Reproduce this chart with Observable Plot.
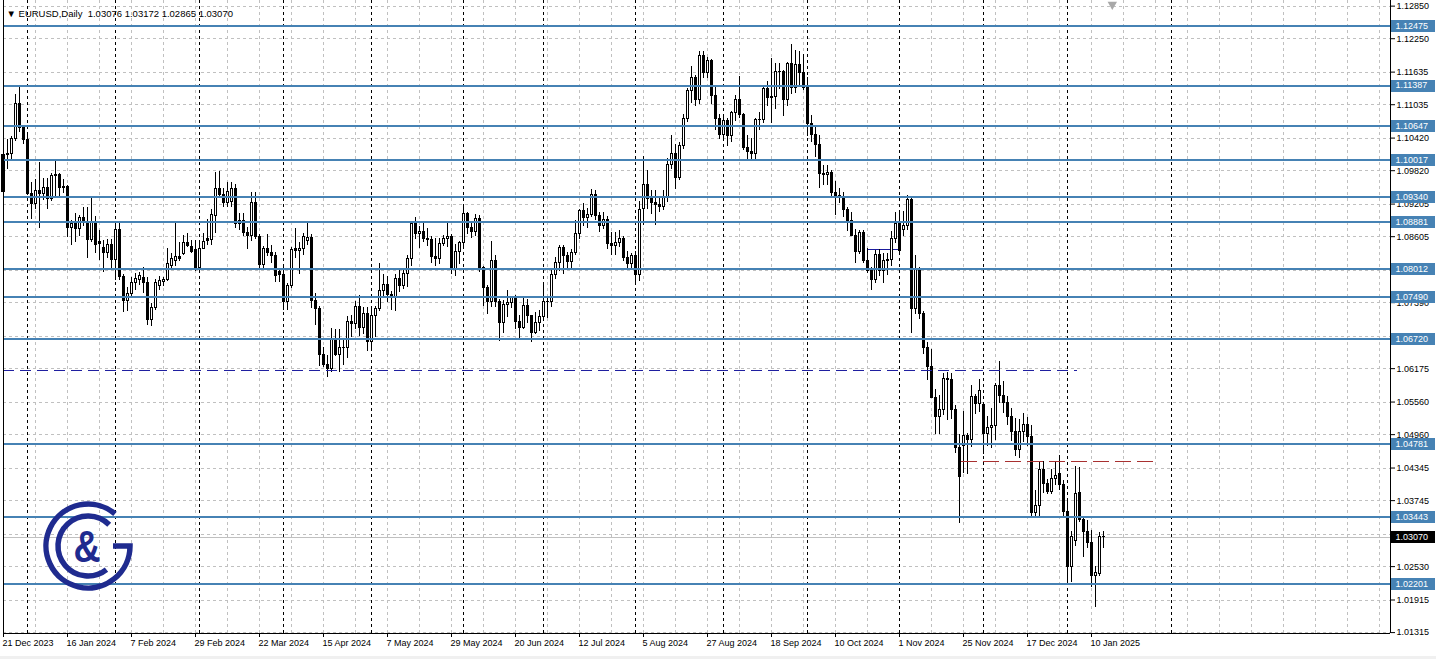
<!DOCTYPE html>
<html><head><meta charset="utf-8">
<script src="https://cdn.jsdelivr.net/npm/d3@7"></script>
<script src="https://cdn.jsdelivr.net/npm/@observablehq/plot@0.6"></script>
<style>
html,body{margin:0;padding:0;background:#f0f0f0;}
#chart svg{display:block;background:#fff;}
</style></head><body><div id="chart"></div>
<script>
// ---- Data: EURUSD daily bars, index 0 = 21 Dec 2023 ----
const opens = [
1.0942,1.1010,1.1012,1.1041,1.1104,1.1061,1.1039,1.0940,1.0920,1.0945,
1.0940,1.0950,1.0930,1.0972,1.0974,1.0951,1.0952,1.0877,1.0884,1.0875,
1.0895,1.0886,1.0855,1.0886,1.0850,1.0840,1.0830,1.0845,1.0818,1.0872,
1.0787,1.0742,1.0755,1.0776,1.0781,1.0785,1.0776,1.0708,1.0730,1.0770,
1.0777,1.0780,1.0806,1.0815,1.0824,1.0828,1.0848,1.0841,1.0836,1.0803,
1.0838,1.0856,1.0855,1.0898,1.0948,1.0938,1.0922,1.0925,1.0949,1.0884,
1.0890,1.0867,1.0862,1.0922,1.0860,1.0808,1.0838,1.0831,1.0825,1.0795,
1.0790,1.0741,1.0770,1.0838,1.0835,1.0837,1.0853,1.0858,1.0742,1.0727,
1.0642,1.0624,1.0617,1.0672,1.0643,1.0656,1.0655,1.0703,1.0699,1.0731,
1.0693,1.0719,1.0666,1.0714,1.0727,1.0761,1.0771,1.0753,1.0749,1.0783,
1.0770,1.0791,1.0819,1.0883,1.0866,1.0870,1.0857,1.0855,1.0823,1.0819,
1.0847,1.0856,1.0859,1.0800,1.0832,1.0848,1.0902,1.0876,1.0870,1.0893,
1.0802,1.0766,1.0741,1.0816,1.0740,1.0701,1.0735,1.0739,1.0749,1.0703,
1.0692,1.0733,1.0715,1.0683,1.0701,1.0713,1.0740,1.0741,1.0790,1.0812,
1.0839,1.0825,1.0813,1.0830,1.0866,1.0907,1.0895,1.0901,1.0938,1.0899,
1.0881,1.0891,1.0847,1.0843,1.0849,1.0856,1.0822,1.0810,1.0825,1.0790,
1.0912,1.0955,1.0930,1.0922,1.0919,1.0916,1.0932,1.0993,1.1012,1.0969,
1.1027,1.1077,1.1129,1.1152,1.1113,1.1193,1.1161,1.1184,1.1120,1.1077,
1.1047,1.1074,1.1045,1.1088,1.1112,1.1084,1.1024,1.1017,1.1012,1.1075,
1.1076,1.1132,1.1116,1.1118,1.1163,1.1164,1.1112,1.1179,1.1134,1.1177,
1.1162,1.1135,1.1068,1.1047,1.1030,1.0975,1.0974,1.0977,1.0941,1.0936,
1.0934,1.0910,1.0890,1.0862,1.0832,1.0867,1.0816,1.0798,1.0781,1.0826,
1.0797,1.0815,1.0817,1.0856,1.0884,1.0873,1.0880,1.0928,1.0728,1.0801,
1.0718,1.0656,1.0621,1.0564,1.0529,1.0541,1.0599,1.0596,1.0542,1.0472,
1.0475,1.0494,1.0487,1.0565,1.0553,1.0550,1.0497,1.0508,1.0512,1.0585,
1.0568,1.0554,1.0528,1.0500,1.0468,1.0501,1.0513,1.0491,1.0352,1.0364,
1.0430,1.0405,1.0390,1.0415,1.0424,1.0403,1.0354,1.0253,1.0301,1.0388,
1.0338,1.0316,1.0297,1.0235,1.0240,1.03076];
const highs = [
1.1012,1.1040,1.1045,1.1123,1.1139,1.1065,1.1046,1.0960,1.0965,1.0998,
1.0968,1.0968,1.0976,1.0999,1.0976,1.0966,1.0954,1.0890,1.0903,1.0900,
1.0915,1.0914,1.0932,1.0898,1.0872,1.0853,1.0855,1.0855,1.0889,1.0885,
1.0790,1.0767,1.0785,1.0792,1.0794,1.0804,1.0785,1.0737,1.0782,1.0788,
1.0786,1.0839,1.0830,1.0885,1.0850,1.0862,1.0866,1.0853,1.0854,1.0854,
1.0866,1.0892,1.0910,1.0979,1.0981,1.0950,1.0960,1.0960,1.0956,1.0904,
1.0903,1.0878,1.0942,1.0942,1.0864,1.0843,1.0865,1.0845,1.0831,1.0800,
1.0803,1.0775,1.0840,1.0876,1.0850,1.0867,1.0885,1.0865,1.0755,1.0732,
1.0656,1.0642,1.0691,1.0690,1.0690,1.0671,1.0714,1.0715,1.0742,1.0752,
1.0730,1.0730,1.0726,1.0732,1.0812,1.0790,1.0787,1.0760,1.0790,1.0799,
1.0801,1.0825,1.0887,1.0895,1.0880,1.0885,1.0875,1.0860,1.0858,1.0858,
1.0862,1.0888,1.0865,1.0846,1.0852,1.0916,1.0905,1.0885,1.0902,1.0899,
1.0805,1.0770,1.0852,1.0825,1.0745,1.0743,1.0761,1.0751,1.0752,1.0716,
1.0748,1.0745,1.0716,1.0720,1.0724,1.0776,1.0750,1.0800,1.0822,1.0845,
1.0845,1.0832,1.0837,1.0890,1.0910,1.0922,1.0912,1.0948,1.0945,1.0905,
1.0905,1.0898,1.0868,1.0869,1.0872,1.0860,1.0833,1.0830,1.0834,1.0926,
1.1008,1.0982,1.0945,1.0945,1.0933,1.0945,1.1004,1.1047,1.1030,1.1033,
1.1085,1.1133,1.1174,1.1158,1.1201,1.1202,1.1190,1.1187,1.1139,1.1086,
1.1080,1.1078,1.1091,1.1120,1.1155,1.1088,1.1047,1.1041,1.1078,1.1090,
1.1138,1.1147,1.1189,1.1180,1.1179,1.1167,1.1182,1.1214,1.1203,1.1202,
1.1196,1.1153,1.1083,1.1061,1.1047,1.0992,1.0992,1.0983,1.0963,1.0950,
1.0941,1.0914,1.0905,1.0874,1.0871,1.0871,1.0838,1.0804,1.0835,1.0836,
1.0830,1.0830,1.0870,1.0905,1.0905,1.0906,1.0937,1.0930,1.0826,1.0803,
1.0722,1.0666,1.0653,1.0580,1.0568,1.0608,1.0610,1.0609,1.0549,1.0497,
1.0539,1.0499,1.0587,1.0570,1.0597,1.0555,1.0530,1.0544,1.0590,1.0630,
1.0594,1.0566,1.0545,1.0525,1.0523,1.0535,1.0527,1.0512,1.0393,1.0444,
1.0446,1.0413,1.0431,1.0445,1.0458,1.0412,1.0375,1.0317,1.0437,1.0436,
1.0346,1.0338,1.0320,1.0253,1.0316,1.03172];
const lows = [
1.0935,1.0985,1.1002,1.1036,1.1052,1.1030,1.0937,1.0892,1.0910,1.0876,
1.0928,1.0911,1.0925,1.0933,1.0930,1.0940,1.0859,1.0844,1.0849,1.0860,
1.0880,1.0821,1.0850,1.0830,1.0817,1.0795,1.0820,1.0800,1.0780,1.0780,
1.0721,1.0723,1.0750,1.0762,1.0770,1.0756,1.0697,1.0695,1.0725,1.0762,
1.0768,1.0778,1.0800,1.0805,1.0815,1.0825,1.0840,1.0830,1.0796,1.0795,
1.0836,1.0845,1.0845,1.0866,1.0935,1.0915,1.0915,1.0915,1.0876,1.0872,
1.0860,1.0837,1.0851,1.0856,1.0802,1.0800,1.0824,1.0812,1.0776,1.0776,
1.0724,1.0725,1.0765,1.0820,1.0791,1.0825,1.0845,1.0729,1.0697,1.0622,
1.0619,1.0601,1.0610,1.0640,1.0610,1.0624,1.0637,1.0675,1.0690,1.0677,
1.0680,1.0650,1.0650,1.0675,1.0722,1.0750,1.0740,1.0724,1.0723,1.0758,
1.0763,1.0767,1.0806,1.0855,1.0838,1.0850,1.0842,1.0811,1.0805,1.0810,
1.0842,1.0841,1.0790,1.0788,1.0810,1.0840,1.0864,1.0858,1.0860,1.0795,
1.0732,1.0718,1.0730,1.0730,1.0667,1.0683,1.0712,1.0728,1.0690,1.0671,
1.0690,1.0700,1.0666,1.0681,1.0686,1.0709,1.0710,1.0730,1.0782,1.0797,
1.0791,1.0800,1.0800,1.0826,1.0855,1.0880,1.0876,1.0895,1.0890,1.0868,
1.0874,1.0836,1.0825,1.0826,1.0841,1.0814,1.0801,1.0800,1.0777,1.0778,
1.0881,1.0910,1.0902,1.0881,1.0905,1.0908,1.0924,1.0985,1.0947,1.0964,
1.1021,1.1070,1.1105,1.1101,1.1103,1.1152,1.1151,1.1104,1.1056,1.1040,
1.1040,1.1026,1.1033,1.1072,1.1078,1.1020,1.1002,1.1002,1.1001,1.1056,
1.1068,1.1101,1.1068,1.1094,1.1132,1.1081,1.1100,1.1122,1.1124,1.1136,
1.1129,1.1045,1.1033,1.1006,1.0950,1.0954,1.0955,1.0935,1.0899,1.0922,
1.0896,1.0870,1.0860,1.0811,1.0828,1.0811,1.0793,1.0761,1.0775,1.0787,
1.0775,1.0789,1.0805,1.0848,1.0832,1.0860,1.0871,1.0683,1.0718,1.0708,
1.0643,1.0595,1.0562,1.0497,1.0497,1.0532,1.0522,1.0524,1.0462,1.0332,
1.0425,1.0423,1.0473,1.0534,1.0536,1.0460,1.0474,1.0471,1.0485,1.0553,
1.0535,1.0512,1.0484,1.0456,1.0452,1.0481,1.0475,1.0343,1.0343,1.0343,
1.0387,1.0385,1.0385,1.0402,1.0394,1.0343,1.0222,1.0224,1.0290,1.0335,
1.0270,1.0286,1.0214,1.0177,1.0235,1.02865];
const closes = [
1.1010,1.1012,1.1041,1.1104,1.1061,1.1039,1.0940,1.0920,1.0945,1.0940,
1.0950,1.0930,1.0972,1.0974,1.0951,1.0952,1.0877,1.0884,1.0875,1.0895,
1.0886,1.0855,1.0886,1.0845,1.0847,1.0830,1.0845,1.0818,1.0872,1.0786,
1.0742,1.0755,1.0776,1.0783,1.0789,1.0776,1.0708,1.0730,1.0775,1.0778,
1.0780,1.0810,1.0820,1.0824,1.0820,1.0848,1.0843,1.0833,1.0800,1.0838,
1.0851,1.0852,1.0900,1.0948,1.0938,1.0922,1.0943,1.0949,1.0884,1.0890,
1.0867,1.0862,1.0922,1.0860,1.0808,1.0838,1.0831,1.0825,1.0789,1.0790,
1.0741,1.0770,1.0836,1.0835,1.0837,1.0860,1.0858,1.0742,1.0727,1.0642,
1.0624,1.0617,1.0672,1.0643,1.0656,1.0655,1.0703,1.0699,1.0731,1.0693,
1.0719,1.0666,1.0714,1.0727,1.0761,1.0771,1.0753,1.0749,1.0783,1.0770,
1.0791,1.0819,1.0883,1.0866,1.0870,1.0857,1.0855,1.0823,1.0819,1.0847,
1.0856,1.0859,1.0800,1.0832,1.0848,1.0902,1.0876,1.0870,1.0893,1.0802,
1.0766,1.0741,1.0816,1.0740,1.0701,1.0735,1.0739,1.0749,1.0703,1.0692,
1.0733,1.0715,1.0683,1.0701,1.0713,1.0740,1.0741,1.0790,1.0812,1.0839,
1.0825,1.0813,1.0830,1.0866,1.0907,1.0895,1.0901,1.0938,1.0899,1.0881,
1.0891,1.0847,1.0843,1.0849,1.0856,1.0822,1.0810,1.0825,1.0790,1.0909,
1.0955,1.0930,1.0922,1.0919,1.0916,1.0932,1.0993,1.1012,1.0969,1.1027,
1.1077,1.1129,1.1152,1.1113,1.1193,1.1161,1.1184,1.1120,1.1077,1.1047,
1.1074,1.1045,1.1088,1.1112,1.1084,1.1024,1.1017,1.1012,1.1075,1.1076,
1.1132,1.1116,1.1118,1.1163,1.1164,1.1112,1.1179,1.1134,1.1177,1.1162,
1.1135,1.1068,1.1047,1.1030,1.0975,1.0974,1.0977,1.0941,1.0936,1.0934,
1.0910,1.0890,1.0862,1.0832,1.0867,1.0816,1.0798,1.0781,1.0826,1.0797,
1.0815,1.0817,1.0856,1.0884,1.0834,1.0880,1.0928,1.0728,1.0801,1.0718,
1.0656,1.0621,1.0564,1.0529,1.0541,1.0599,1.0596,1.0542,1.0472,1.0418,
1.0494,1.0487,1.0565,1.0553,1.0577,1.0497,1.0508,1.0512,1.0585,1.0568,
1.0554,1.0528,1.0500,1.0468,1.0501,1.0513,1.0491,1.0352,1.0364,1.0430,
1.0405,1.0390,1.0415,1.0420,1.0403,1.0354,1.0253,1.0307,1.0386,1.0338,
1.0316,1.0296,1.0235,1.0242,1.0307,1.03070];

// time-axis labels (one every 16 bars)
const dateLabels = ["21 Dec 2023","16 Jan 2024","7 Feb 2024","29 Feb 2024","22 Mar 2024","15 Apr 2024",
  "7 May 2024","29 May 2024","20 Jun 2024","12 Jul 2024","5 Aug 2024","27 Aug 2024","18 Sep 2024",
  "10 Oct 2024","1 Nov 2024","25 Nov 2024","17 Dec 2024","10 Jan 2025"];
const labelStep = 16;
// first bar of each month (period separators)
const monthStarts = [6, 28, 49, 70, 92, 115, 135, 158, 180, 201, 224, 245, 266, 292];
// price scale grid ticks, and the tick labels that are not covered by level tags
const priceTicks = [1.12850,1.12250,1.11635,1.11035,1.10420,1.09820,1.09205,1.08605,1.07990,1.07390,
  1.06775,1.06175,1.05560,1.04960,1.04345,1.03745,1.03130,1.02530,1.01915,1.01315];
const hiddenTickLabels = [1.07990, 1.06775, 1.03130];
// horizontal support / resistance levels
const levels = [1.12475,1.11387,1.10647,1.10017,1.09340,1.08881,1.08012,1.07490,1.06720,1.04781,1.03443,1.02201];
// dashed lines: [price, fromBar, toBar]
const blueDashed = [1.06141, 0, 268.5];
const redDashed = [1.04460, 239.5, 289];
const navySegment = [1.08370, 216, 224];
const symbol = "EURUSD,Daily";

// ---- Layout ----
const W = 1436, H = 656;
const X0 = 0, X1 = 346.75;              // bar-index domain
const Y1 = 1.129537, Y0 = 1.012984;      // price domain
const bars = opens.map((o, i) => ({i, o, h: highs[i], l: lows[i], c: closes[i]}));
const last = bars[bars.length - 1];
const fmt = d3.format(".5f");
const header = `▼ ${symbol}  ${fmt(last.o)} ${fmt(last.h)} ${fmt(last.l)} ${fmt(last.c)}`;
const labelIdx = dateLabels.map((_, k) => k * labelStep);
const gridIdx = d3.range(0, 345, 8);
const shownTicks = priceTicks.filter(t => !hiddenTickLabels.includes(t));
const steel = "#4682b4";
const dash = "3,3";
const crisp = {shapeRendering: "crispEdges"};

const hasAxisMarks = typeof Plot.axisY === "function";
const marks = [
  Plot.ruleY(priceTicks, {stroke: "#c0c0c0", strokeDasharray: dash, ...crisp}),
  Plot.ruleX(gridIdx, {stroke: "#c0c0c0", strokeDasharray: dash, ...crisp}),
  Plot.ruleX(monthStarts, {stroke: "#000", strokeDasharray: dash, ...crisp}),
  Plot.ruleY([last.c], {stroke: "#c0c0c0", ...crisp}),
  Plot.ruleY([navySegment], {y: d => d[0], x1: d => d[1], x2: d => d[2], stroke: "#1a1a9c", ...crisp}),
  Plot.ruleX(bars, {x: "i", y1: "l", y2: "h", stroke: "#000", ...crisp}),
  Plot.rect(bars.filter(d => d.c >= d.o), {x1: d => d.i - 0.25, x2: d => d.i + 0.25, y1: "o", y2: "c", fill: "#fff", stroke: "#000", ...crisp}),
  Plot.rect(bars.filter(d => d.c < d.o), {x1: d => d.i - 0.25, x2: d => d.i + 0.25, y1: "o", y2: "c", fill: "#000", stroke: "#000", ...crisp}),
  Plot.ruleY(levels, {stroke: steel, strokeWidth: 2, ...crisp}),
  Plot.ruleY([blueDashed], {y: d => d[0], x1: d => d[1], x2: d => d[2], stroke: "#1f1fa0", strokeDasharray: "11,6", ...crisp}),
  Plot.ruleY([redDashed], {y: d => d[0], x1: d => d[1], x2: d => d[2], stroke: "#a83030", strokeDasharray: "16,6", ...crisp}),
  Plot.ruleX([X0, X1], {stroke: "#000", ...crisp}),
  Plot.ruleY([Y0], {stroke: "#000", ...crisp}),
];
if (hasAxisMarks) {
  marks.unshift(Plot.axisY(shownTicks, {anchor: "right", tickSize: 4, tickPadding: 2, tickFormat: fmt, label: null}));
  marks.unshift(Plot.axisX(labelIdx, {anchor: "bottom", tickSize: 4, tickFormat: () => "", label: null}));
}
marks.push(
  Plot.ruleY(levels, {x1: X1 + 0.25, x2: X1 + 11.25, stroke: steel, strokeWidth: 12, ...crisp}),
  Plot.text(levels, {x: X1, y: d => d, text: d => fmt(d), dx: 5, textAnchor: "start", fill: "#fff"}),
  Plot.ruleY([last.c], {x1: X1 + 0.25, x2: X1 + 11.25, stroke: "#000", strokeWidth: 12, ...crisp}),
  Plot.text([last.c], {x: X1, y: d => d, text: d => fmt(d), dx: 5, textAnchor: "start", fill: "#fff"}),
  Plot.text(labelIdx, {x: d => d, frameAnchor: "bottom", dy: 12, text: (d, k) => dateLabels[k], textAnchor: "start", dx: -1, fill: "#000"}),
  Plot.text([header], {frameAnchor: "top-left", dx: 3, dy: 10, text: d => d, textAnchor: "start", fill: "#000", fontSize: 9.5}),
  Plot.dot([bars.length + 1.2], {x: d => d, frameAnchor: "top", dy: 4, symbol: "triangle", r: 3.5, fill: "#a8a8a8", rotate: 180})
);

const chart = Plot.plot({
  width: W, height: H,
  marginLeft: 3, marginRight: 46, marginTop: 0, marginBottom: H - 633,
  style: {fontFamily: "'Liberation Sans', Arial, sans-serif", fontSize: "9px", background: "#fff", color: "#000", overflow: "visible"},
  x: {domain: [X0, X1], axis: hasAxisMarks ? null : "bottom", ticks: labelIdx, tickFormat: () => "", tickSize: 4, label: null},
  y: {domain: [Y0, Y1], axis: hasAxisMarks ? null : "right", ticks: shownTicks, tickFormat: fmt, tickSize: 4, tickPadding: 2, label: null},
  marks
});
document.getElementById("chart").append(chart);

// ---- logo (decoration) ----
const navy = "#1f2b8f";
const g = d3.select(chart).append("g").attr("fill", "none").attr("stroke", navy).attr("stroke-width", 5.5)
  .attr("shape-rendering", "geometricPrecision");
const cx = 88, cy = 546;
const pt = (r, a) => [cx + r * Math.cos(a * Math.PI / 180), cy + r * Math.sin(a * Math.PI / 180)];
const [s1x, s1y] = pt(42, -50), [e1x, e1y] = pt(42, 0);
g.append("path").attr("d", `M${s1x},${s1y} A42,42 0 1 0 ${e1x},${e1y} L${cx + 25},${cy}`);
const [s2x, s2y] = pt(30, -45), [e2x, e2y] = pt(30, 52);
g.append("path").attr("d", `M${s2x},${s2y} A30,30 0 1 0 ${e2x},${e2y}`);
d3.select(chart).append("text").attr("x", cx - 1).attr("y", cy + 1)
  .attr("text-anchor", "middle").attr("dominant-baseline", "central")
  .attr("font-family", "'Liberation Sans', Arial, sans-serif").attr("font-weight", "bold")
  .attr("font-size", 44).attr("fill", navy)
  .attr("transform", `translate(${cx - 1},0) scale(0.85,1) translate(${-(cx - 1)},0)`)
  .text("&");
</script>
</body></html>
